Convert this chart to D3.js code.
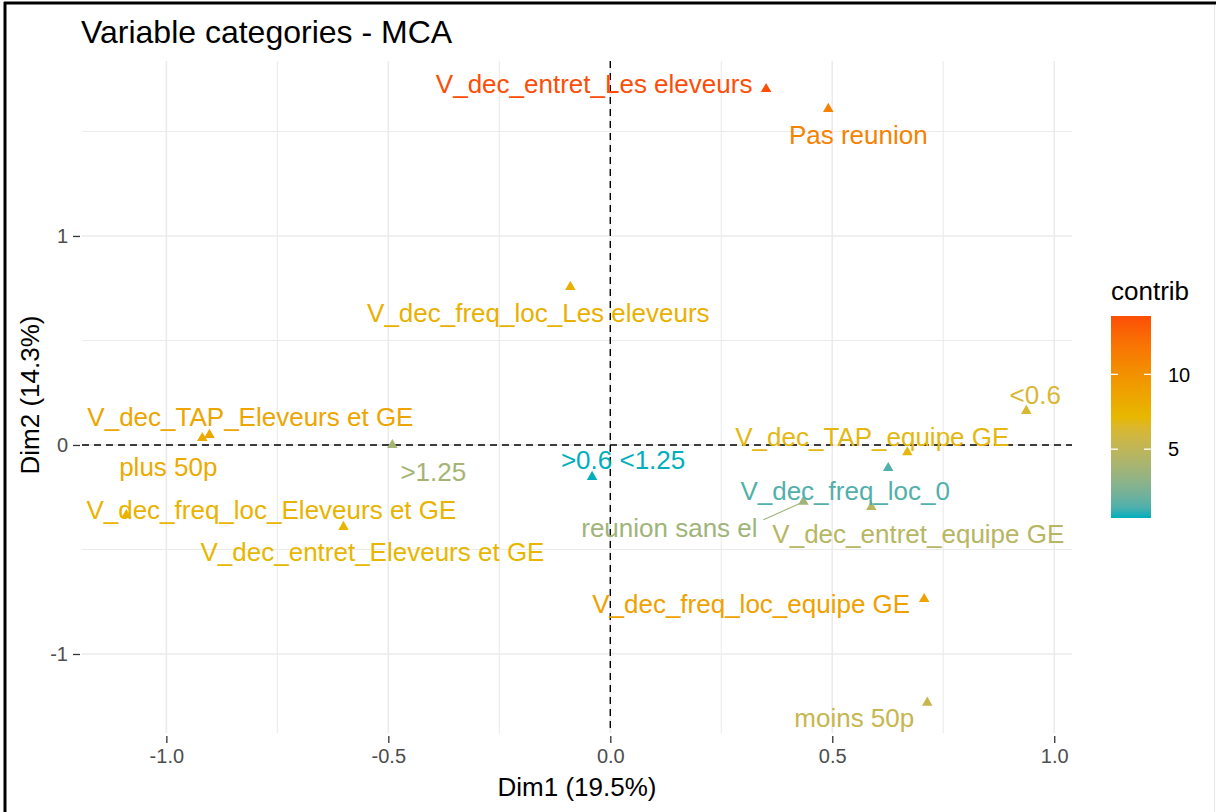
<!DOCTYPE html>
<html>
<head>
<meta charset="utf-8">
<script src="https://cdn.jsdelivr.net/npm/d3@7"></script>
<style>
  html, body { margin: 0; padding: 0; background: #fff; }
  svg { display: block; font-family: "Liberation Sans", Arial, sans-serif; }
</style>
</head>
<body>
<svg id="chart" width="1216" height="812"></svg>
<script>
// Category labels of the MCA variable map
const categories = [
  "V_dec_entret_Les eleveurs", "Pas reunion", "V_dec_freq_loc_Les eleveurs",
  "V_dec_TAP_Eleveurs et GE", "plus 50p", ">1.25", ">0.6 <1.25",
  "V_dec_freq_loc_Eleveurs et GE", "V_dec_entret_Eleveurs et GE", "<0.6",
  "V_dec_TAP_equipe GE", "V_dec_freq_loc_0", "reunion sans el",
  "V_dec_entret_equipe GE", "V_dec_freq_loc_equipe GE", "moins 50p"
];
// Coordinates on Dim1 / Dim2
const dim1 = [0.351, 0.491, -0.090, -0.903, -0.919, -0.491, -0.041, -1.090, -0.601, 0.937, 0.669, 0.626, 0.435, 0.588, 0.707, 0.714];
const dim2 = [1.703, 1.608, 0.756, 0.048, 0.033, 0.000, -0.153, -0.335, -0.392, 0.163, -0.035, -0.110, -0.272, -0.297, -0.737, -1.233];
// Contribution of each category
const contrib = [13.9, 11.0, 7.8, 8.6, 8.2, 3.8, 0.4, 7.5, 7.2, 6.3, 7.0, 1.2, 3.6, 4.6, 8.9, 5.4];

const xTicks = [-1.0, -0.5, 0.0, 0.5, 1.0];
const yTicks = [-1, 0, 1];
const legendTicks = [5, 10];

// Repelled label offsets (pixels from the point)
const labelOffset = {
  "V_dec_entret_Les eleveurs": [-172, -5],
  "Pas reunion": [30, 26],
  "V_dec_freq_loc_Les eleveurs": [-32, 26],
  "V_dec_TAP_Eleveurs et GE": [41, -18],
  "plus 50p": [-34, 29],
  ">1.25": [41, 27],
  ">0.6 <1.25": [31, -17],
  "V_dec_freq_loc_Eleveurs et GE": [145, -5],
  "V_dec_entret_Eleveurs et GE": [29, 25],
  "<0.6": [9, -16],
  "V_dec_TAP_equipe GE": [-35, -16],
  "V_dec_freq_loc_0": [-43, 23],
  "reunion sans el": [-134, 26],
  "V_dec_entret_equipe GE": [47, 27],
  "V_dec_freq_loc_equipe GE": [-173, 5],
  "moins 50p": [-73, 15]
};
const withSegment = new Set(["reunion sans el"]);

const data = categories.map((c, i) => ({ name: c, x: dim1[i], y: dim2[i], contrib: contrib[i] }));

const svg = d3.select("#chart");
const panel = { left: 82, right: 1072, top: 61, bottom: 733 };

const x = d3.scaleLinear().domain([-1.19, 1.04]).range([panel.left, panel.right]);
const y = d3.scaleLinear().domain([-1.378, 1.837]).range([panel.bottom, panel.top]);

const cMin = d3.min(contrib), cMax = d3.max(contrib);
const color = d3.scaleLinear()
  .domain([cMin, (cMin + cMax) / 2, cMax])
  .range(["#00AFBB", "#E7B800", "#FC4E07"])
  .interpolate(d3.interpolateLab);

// Frame
svg.append("rect").attr("x", 0).attr("y", 0).attr("width", 1216).attr("height", 812).attr("fill", "#fff");
svg.append("line").attr("x1", 4).attr("x2", 1216).attr("y1", 3).attr("y2", 3).attr("stroke", "#000").attr("stroke-width", 3);
svg.append("line").attr("x1", 5).attr("x2", 5).attr("y1", 2).attr("y2", 812).attr("stroke", "#000").attr("stroke-width", 3);
svg.append("line").attr("x1", 1214.5).attr("x2", 1214.5).attr("y1", 5).attr("y2", 812).attr("stroke", "#e6e6e6").attr("stroke-width", 1);

// Grid
const grid = svg.append("g");
const xMinor = d3.range(-1.25, 1.26, 0.25).filter(v => x(v) >= panel.left && x(v) <= panel.right);
const yMinor = d3.range(-1.5, 2.01, 0.5).filter(v => y(v) >= panel.top && y(v) <= panel.bottom);
grid.selectAll(".vx").data(xMinor).join("line")
  .attr("x1", d => x(d)).attr("x2", d => x(d)).attr("y1", panel.top).attr("y2", panel.bottom)
  .attr("stroke", "#ebebeb").attr("stroke-width", d => xTicks.some(t => Math.abs(t - d) < 1e-9) ? 1.6 : 1.1);
grid.selectAll(".hy").data(yMinor).join("line")
  .attr("x1", panel.left).attr("x2", panel.right).attr("y1", d => y(d)).attr("y2", d => y(d))
  .attr("stroke", "#ebebeb").attr("stroke-width", d => yTicks.some(t => Math.abs(t - d) < 1e-9) ? 1.6 : 1.1);

// Reference lines
svg.append("line").attr("x1", x(0)).attr("x2", x(0)).attr("y1", panel.top).attr("y2", panel.bottom)
  .attr("stroke", "#000").attr("stroke-width", 1.4).attr("stroke-dasharray", "7,5");
svg.append("line").attr("x1", panel.left).attr("x2", panel.right).attr("y1", y(0)).attr("y2", y(0))
  .attr("stroke", "#000").attr("stroke-width", 1.4).attr("stroke-dasharray", "7,5");

// Axes
const xAxis = d3.axisBottom(x).tickValues(xTicks).tickFormat(d3.format(".1f")).tickSize(7).tickPadding(6);
const gx = svg.append("g").attr("transform", `translate(0,${panel.bottom + 3})`).call(xAxis);
gx.select(".domain").remove();
gx.selectAll(".tick line").attr("stroke", "#333").attr("stroke-width", 1.3);
gx.selectAll(".tick text").attr("fill", "#4d4d4d").style("font-size", "20px")
  .text(d => d3.format(".1f")(d).replace("−", "-"));

const yAxis = d3.axisLeft(y).tickValues(yTicks).tickFormat(d => String(d)).tickSize(7).tickPadding(5);
const gy = svg.append("g").attr("transform", `translate(${panel.left - 2},0)`).call(yAxis);
gy.select(".domain").remove();
gy.selectAll(".tick line").attr("stroke", "#333").attr("stroke-width", 1.3);
gy.selectAll(".tick text").attr("fill", "#4d4d4d").style("font-size", "20px")
  .text(d => String(d).replace("−", "-"));

// Axis titles
svg.append("text").attr("x", (panel.left + panel.right) / 2).attr("y", 796).attr("text-anchor", "middle")
  .style("font-size", "26px").attr("fill", "#000").text("Dim1 (19.5%)");
svg.append("text").attr("transform", `translate(39,${(panel.top + panel.bottom) / 2 - 2}) rotate(-90)`)
  .attr("text-anchor", "middle").style("font-size", "26px").attr("fill", "#000").text("Dim2 (14.3%)");

// Title
svg.append("text").attr("x", 81).attr("y", 43).style("font-size", "32px").attr("fill", "#000")
  .text("Variable categories - MCA");

// Label segments
svg.append("g").selectAll("line").data(data.filter(d => withSegment.has(d.name))).join("line")
  .attr("x1", d => x(d.x) + labelOffset[d.name][0] + 94)
  .attr("y1", d => y(d.y) + labelOffset[d.name][1] - 8)
  .attr("x2", d => x(d.x) - 2).attr("y2", d => y(d.y) + 1)
  .attr("stroke", d => color(d.contrib)).attr("stroke-width", 1.1);

// Points
const tri = d3.symbol().type(d3.symbolTriangle).size(48);
svg.append("g").selectAll("path").data(data).join("path")
  .attr("d", tri)
  .attr("transform", d => `translate(${x(d.x)},${y(d.y)})`)
  .attr("fill", d => color(d.contrib));

// Labels
svg.append("g").selectAll("text").data(data).join("text")
  .attr("x", d => x(d.x) + labelOffset[d.name][0])
  .attr("y", d => y(d.y) + labelOffset[d.name][1])
  .attr("dy", "0.36em")
  .attr("text-anchor", "middle")
  .style("font-size", "26px")
  .attr("fill", d => color(d.contrib))
  .text(d => d.name);

// Colour legend
const lg = { x: 1111, w: 40, top: 316, bottom: 518 };
const ly = d3.scaleLinear().domain([cMin, cMax]).range([lg.bottom, lg.top]);
const defs = svg.append("defs");
const grad = defs.append("linearGradient").attr("id", "contribGrad")
  .attr("x1", 0).attr("x2", 0).attr("y1", 1).attr("y2", 0);
d3.range(0, 1.0001, 0.05).forEach(t => {
  grad.append("stop").attr("offset", t).attr("stop-color", color(cMin + t * (cMax - cMin)));
});
svg.append("text").attr("x", lg.x).attr("y", 300).style("font-size", "26px").attr("fill", "#000").text("contrib");
svg.append("rect").attr("x", lg.x).attr("y", lg.top).attr("width", lg.w).attr("height", lg.bottom - lg.top)
  .attr("fill", "url(#contribGrad)");
const lt = svg.append("g").selectAll("g").data(legendTicks).join("g");
lt.append("line").attr("x1", lg.x).attr("x2", lg.x + 7).attr("y1", d => ly(d)).attr("y2", d => ly(d))
  .attr("stroke", "#fff").attr("stroke-width", 1.3);
lt.append("line").attr("x1", lg.x + lg.w - 7).attr("x2", lg.x + lg.w).attr("y1", d => ly(d)).attr("y2", d => ly(d))
  .attr("stroke", "#fff").attr("stroke-width", 1.3);
lt.append("text").attr("x", lg.x + lg.w + 17).attr("y", d => ly(d)).attr("dy", "0.36em")
  .style("font-size", "20px").attr("fill", "#000").text(d => d);
</script>
</body>
</html>
